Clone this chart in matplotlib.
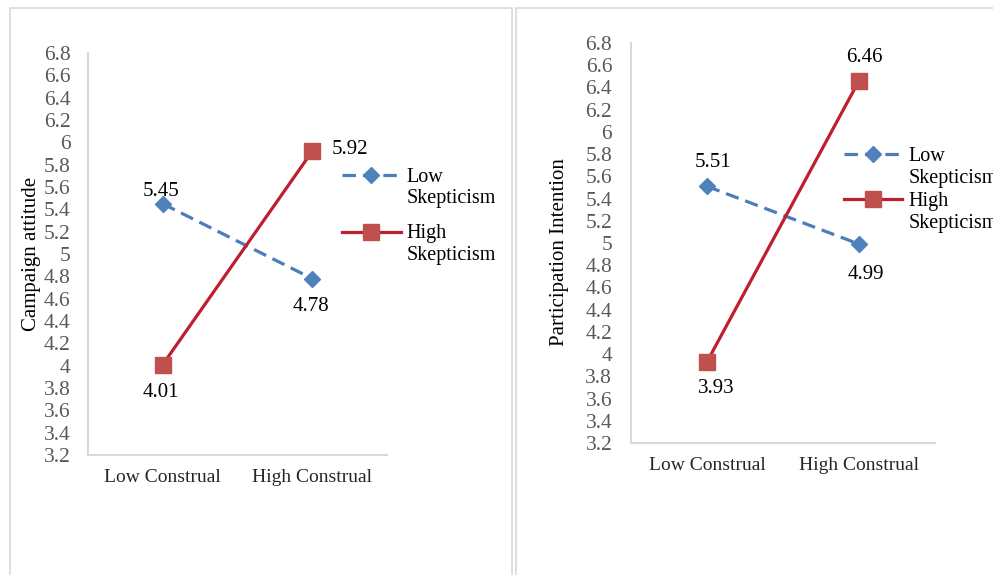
import matplotlib.pyplot as plt
from matplotlib.patches import Rectangle

# Data
construal = ["Low Construal", "High Construal"]
yticks = [3.2, 3.4, 3.6, 3.8, 4, 4.2, 4.4, 4.6, 4.8, 5, 5.2, 5.4, 5.6, 5.8, 6, 6.2, 6.4, 6.6, 6.8]
ytick_labels = ["3.2", "3.4", "3.6", "3.8", "4", "4.2", "4.4", "4.6", "4.8", "5",
                "5.2", "5.4", "5.6", "5.8", "6", "6.2", "6.4", "6.6", "6.8"]

attitude_low = [5.45, 4.78]
attitude_high = [4.01, 5.92]
intention_low = [5.51, 4.99]
intention_high = [3.93, 6.46]

BLUE_LINE = "#4A7EBB"
BLUE_MARK = "#4F81BD"
RED_LINE = "#BE1E2D"
RED_MARK = "#C0504D"
GRAY = "#D9D9D9"

plt.rcParams['font.family'] = ['Liberation Serif', 'DejaVu Serif']

fig = plt.figure(figsize=(9.93, 5.75), dpi=100)

# panel borders
fig.add_artist(Rectangle((0.0101, -0.02), 0.5055, 1.006, transform=fig.transFigure,
                         fill=False, edgecolor=GRAY, lw=1.2))
fig.add_artist(Rectangle((0.5196, -0.02), 0.5, 1.006, transform=fig.transFigure,
                         fill=False, edgecolor=GRAY, lw=1.2))


def draw_panel(ax, low, high, ylabel, label_offsets, ylabel_xy, legend_xy, legend_spacing, ypad):
    x = [0.5, 1.5]
    ax.plot(x, low, color=BLUE_LINE, lw=2.3, linestyle=(0, (4.2, 2.2)),
            marker="D", markersize=8, markerfacecolor=BLUE_MARK, markeredgecolor=BLUE_MARK,
            label="Low\nSkepticism")
    ax.plot(x, high, color=RED_LINE, lw=2.3,
            marker="s", markersize=11, markerfacecolor=RED_MARK, markeredgecolor=RED_MARK,
            label="High\nSkepticism")

    vals = low + high
    xs = x + x
    for xi, v, off in zip(xs, vals, label_offsets):
        ax.annotate(f"{v:.2f}", (xi, v), xytext=off, textcoords="offset points",
                    ha="center", va="center", fontsize=15, color="black")

    ax.set_xlim(0, 2)
    ax.set_ylim(3.2, 6.8)
    ax.set_yticks(yticks)
    ax.set_yticklabels(ytick_labels)
    ax.set_xticks(x)
    ax.set_xticklabels(construal, fontsize=14)
    ax.tick_params(axis="y", length=0, labelsize=15.5, labelcolor="#595959", pad=ypad)
    ax.tick_params(axis="x", length=0, pad=10, labelcolor="#262626")
    for s in ["top", "right"]:
        ax.spines[s].set_visible(False)
    for s in ["left", "bottom"]:
        ax.spines[s].set_color(GRAY)
        ax.spines[s].set_linewidth(1.5)

    ax.set_ylabel(ylabel, fontsize=15)
    ax.yaxis.set_label_coords(*ylabel_xy)

    leg = ax.legend(loc="upper left", bbox_to_anchor=legend_xy, frameon=False, fontsize=14.5,
                    handlelength=2.9, handletextpad=0.3, labelspacing=legend_spacing,
                    borderaxespad=0, borderpad=0)
    for t in leg.get_texts():
        t.set_linespacing(1.2)
    # keep the marker level with the first text line, as Excel does
    for col in leg._legend_handle_box.get_children():
        for row in col.get_children():
            row.align = "top"


ax1 = fig.add_axes([0.0886, 0.2087, 0.3011, 0.6991])
draw_panel(ax1, attitude_low, attitude_high, "Campaign attitude",
           [(-1.5, 8.5), (-1, -20), (-1, -20), (27, 1.5)],
           (-0.157, 0.50), (0.85, 0.715), 0.8, 12.5)

ax2 = fig.add_axes([0.6354, 0.2296, 0.3062, 0.6957])
draw_panel(ax2, intention_low, intention_high, "Participation Intention",
           [(4, 17), (5, -22), (7, -19), (4, 16.5)],
           (-0.205, 0.478), (0.70, 0.74), 0.2, 13.5)

plt.savefig("out.png", dpi=100)
